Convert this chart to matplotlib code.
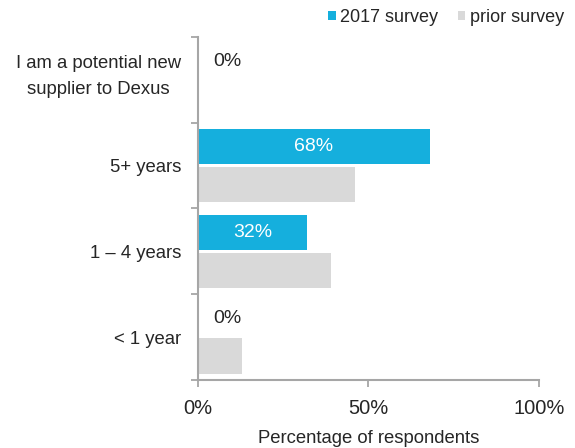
import numpy as np
import matplotlib
matplotlib.use("Agg")
import matplotlib.pyplot as plt
from matplotlib.transforms import ScaledTranslation

plt.rcParams['font.family'] = ['Liberation Sans', 'DejaVu Sans']

# survey results, top category first
categories = ["I am a potential new\nsupplier to Dexus", "5+ years", "1 \u2013 4 years", "< 1 year"]
survey_2017 = [0, 68, 32, 0]
prior_survey = [0, 46, 39, 13]

blue = "#15AFDD"
grey = "#D9D9D9"
text_col = "#262626"
axis_col = "#A6A6A6"

fig = plt.figure(figsize=(5.75, 4.48), dpi=100)
ax = fig.add_axes([0.3443, 0.1518, 0.593, 0.7656])

y = np.arange(len(categories))
h = 0.41
off = 0.22
bars_new = ax.barh(y - off, survey_2017, height=h, color=blue, label="2017 survey")
bars_old = ax.barh(y + off, prior_survey, height=h, color=grey, label="prior survey")

for b, v in zip(bars_new, survey_2017):
    yc = b.get_y() + b.get_height() / 2
    if v >= 10:
        ax.text(v / 2, yc, f"{v}%", ha="center", va="center", color="white", fontsize=14)
    else:
        ax.text(v + 8.5, yc, f"{v}%", ha="center", va="center", color=text_col, fontsize=14)

ax.set_xlim(0, 100)
ax.set_ylim(3.5, -0.5)
ax.set_xticks([0, 50, 100])
ax.set_xticklabels(["0%", "50%", "100%"], fontsize=14.5, color=text_col)
ax.tick_params(axis="x", length=5, width=1.3, color=axis_col, pad=9)

ax.set_yticks(y)
ax.set_yticklabels(categories, fontsize=13.3, color=text_col, multialignment="center",
                   linespacing=1.7)
ax.tick_params(axis="y", which="major", length=0, pad=12)
ax.set_yticks(np.arange(-0.5, 4.0, 1.0), minor=True)
ax.tick_params(axis="y", which="minor", length=5, width=1.3, color=axis_col)

# lift the two-line label so it sits centred in its row
lbl = ax.get_yticklabels()[0]
lbl.set_transform(lbl.get_transform() + ScaledTranslation(0, 7.2 / 72, fig.dpi_scale_trans))

for s in ["top", "right"]:
    ax.spines[s].set_visible(False)
for s in ["left", "bottom"]:
    ax.spines[s].set_color(axis_col)
    ax.spines[s].set_linewidth(1.5)

ax.set_xlabel("Percentage of respondents", fontsize=13.3, color=text_col, labelpad=8)

leg = ax.legend(loc="lower right", bbox_to_anchor=(1.11, 0.995), ncol=2, frameon=False,
                fontsize=13, handlelength=0.4, handleheight=0.4, handletextpad=0.25,
                columnspacing=1.1, borderaxespad=0.3)
for t in leg.get_texts():
    t.set_color(text_col)

fig.savefig("out.png", dpi=100)
